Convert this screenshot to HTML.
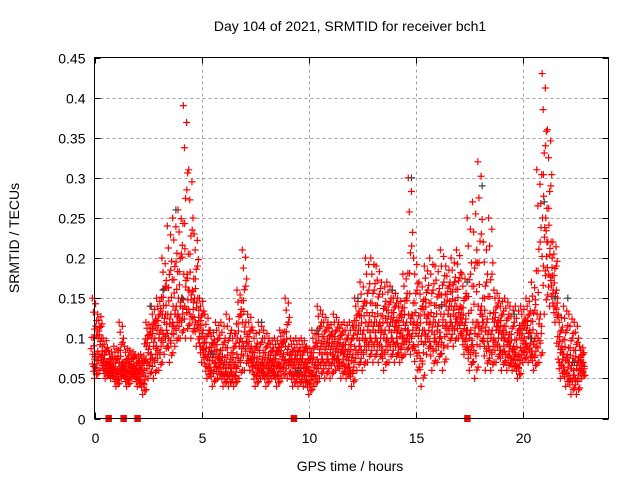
<!DOCTYPE html>
<html><head><meta charset="utf-8"><style>
body{margin:0;background:#fff}
svg{display:block;font-family:"Liberation Sans",sans-serif}
</style></head><body>
<svg id="chart" width="640" height="480">
<text x="350" y="31" text-anchor="middle" font-size="14">Day 104 of 2021, SRMTID for receiver bch1</text>
<text x="350" y="471" text-anchor="middle" font-size="14">GPS time / hours</text>
<text transform="translate(19,238) rotate(-90)" text-anchor="middle" font-size="14">SRMTID / TECUs</text>
<g id="grid"></g><g id="ticks"></g><g id="marks"></g>
<rect x="94.5" y="57.5" width="514" height="361" fill="none" stroke="#000"/>
</svg>
<script>
const times=[0,0.25,0.5,0.75,1,1.25,1.5,1.75,2,2.25,2.5,2.75,3,3.25,3.5,3.75,4,4.25,4.5,4.75,5,5.25,5.5,5.75,6,6.25,6.5,6.75,7,7.25,7.5,7.75,8,8.25,8.5,8.75,9,9.25,9.5,9.75,10,10.25,10.5,10.75,11,11.25,11.5,11.75,12,12.25,12.5,12.75,13,13.25,13.5,13.75,14,14.25,14.5,14.75,15,15.25,15.5,15.75,16,16.25,16.5,16.75,17,17.25,17.5,17.75,18,18.25,18.5,18.75,19,19.25,19.5,19.75,20,20.25,20.5,20.75,21,21.25,21.5,21.75,22,22.25,22.5,22.75];
const lowVals=[0.05,0.06,0.05,0.05,0.04,0.05,0.04,0.05,0.04,0.03,0.05,0.05,0.06,0.08,0.07,0.09,0.10,0.10,0.10,0.09,0.07,0.05,0.04,0.05,0.04,0.04,0.04,0.05,0.06,0.06,0.04,0.05,0.04,0.05,0.04,0.05,0.05,0.04,0.04,0.04,0.03,0.04,0.05,0.05,0.05,0.06,0.05,0.05,0.04,0.06,0.06,0.07,0.07,0.07,0.06,0.07,0.07,0.07,0.08,0.08,0.05,0.04,0.08,0.06,0.07,0.06,0.09,0.09,0.10,0.08,0.06,0.05,0.09,0.06,0.06,0.07,0.06,0.06,0.06,0.05,0.07,0.07,0.06,0.07,0.13,0.14,0.12,0.05,0.04,0.03,0.03,0.05];
const midVals=[0.08,0.10,0.07,0.065,0.06,0.07,0.06,0.065,0.06,0.06,0.09,0.10,0.11,0.13,0.13,0.14,0.15,0.18,0.16,0.15,0.11,0.08,0.08,0.08,0.07,0.07,0.07,0.10,0.12,0.09,0.07,0.07,0.07,0.07,0.07,0.08,0.09,0.07,0.07,0.07,0.06,0.07,0.09,0.09,0.09,0.09,0.09,0.08,0.08,0.11,0.11,0.12,0.12,0.12,0.11,0.12,0.12,0.11,0.12,0.13,0.12,0.11,0.13,0.12,0.12,0.13,0.14,0.14,0.14,0.12,0.11,0.12,0.14,0.12,0.11,0.12,0.11,0.10,0.09,0.08,0.10,0.11,0.10,0.13,0.25,0.22,0.16,0.09,0.08,0.07,0.07,0.07];
const highVals=[0.15,0.13,0.10,0.085,0.09,0.12,0.09,0.085,0.08,0.08,0.12,0.14,0.15,0.20,0.24,0.25,0.26,0.39,0.31,0.23,0.15,0.13,0.11,0.12,0.12,0.13,0.11,0.16,0.21,0.13,0.11,0.12,0.11,0.10,0.10,0.11,0.15,0.10,0.10,0.10,0.09,0.11,0.14,0.13,0.12,0.13,0.12,0.12,0.12,0.15,0.17,0.20,0.20,0.19,0.17,0.17,0.16,0.15,0.18,0.30,0.20,0.17,0.19,0.20,0.19,0.21,0.19,0.20,0.21,0.18,0.25,0.27,0.32,0.22,0.25,0.16,0.15,0.15,0.14,0.14,0.14,0.15,0.17,0.31,0.43,0.36,0.22,0.13,0.14,0.13,0.12,0.09];
const grayTimes=[2.6,3.2,3.8,4.1,5.5,7.8,9.5,10.4,12.3,13.9,14.8,16.2,17.4,18.1,19.6,20.4,21.0,21.5,22.1,22.4];
const grayVals=[0.14,0.16,0.26,0.15,0.08,0.12,0.06,0.11,0.15,0.16,0.30,0.14,0.17,0.29,0.13,0.10,0.27,0.15,0.15,0.07];
const zeroTimes=[0.65,1.35,2.0,9.3,17.4];
const xTicks=[0,5,10,15,20];
const yTicks=[0,0.05,0.1,0.15,0.2,0.25,0.3,0.35,0.4,0.45];
const yTickLabels=["0","0.05","0.1","0.15","0.2","0.25","0.3","0.35","0.4","0.45"];

const X0=94.5,X1=608.5,Y0=418.5,Y1=57.5;
const xs=t=>X0+t/24*(X1-X0);
const ys=v=>Y0-v/0.45*(Y0-Y1);
const NS="http://www.w3.org/2000/svg";
function mk(tag,parent,attrs){const e=document.createElementNS(NS,tag);for(const k in attrs)e.setAttribute(k,attrs[k]);parent.appendChild(e);return e;}
const grid=document.getElementById('grid'),ticks=document.getElementById('ticks'),marks=document.getElementById('marks');
yTicks.forEach((v,i)=>{
  const y=Math.round(ys(v))+0.5;
  if(v>0&&v<0.45){const g=mk('line',grid,{x1:X0,x2:X1,y1:y,y2:y,stroke:'#a0a0a0','stroke-dasharray':'3,3'});
  
  }
  mk('line',ticks,{x1:X0,x2:X0+6,y1:y,y2:y,stroke:'#000'});
  mk('line',ticks,{x1:X1-6,x2:X1,y1:y,y2:y,stroke:'#000'});
  const t=mk('text',ticks,{x:X0-9,y:y+5,'text-anchor':'end','font-size':14});
  t.textContent=yTickLabels[i];
  
  
});
xTicks.forEach(v=>{
  const x=Math.round(xs(v))+0.5;
  if(v>0){const g=mk('line',grid,{x1:x,x2:x,y1:Y1,y2:Y0,stroke:'#a0a0a0','stroke-dasharray':'3,3'});
  
  }
  mk('line',ticks,{x1:x,x2:x,y1:Y0,y2:Y0-6,stroke:'#000'});
  mk('line',ticks,{x1:x,x2:x,y1:Y1,y2:Y1+6,stroke:'#000'});
  const t=mk('text',ticks,{x:x,y:443,'text-anchor':'middle','font-size':14});
  t.textContent=String(v);
  
  
});
function plus(t,v,color){
  const x=xs(t),y=ys(v);
  const p=mk('path',marks,{d:`M${x-3.5},${y}H${x+3.5}M${x},${y-3.5}V${y+3.5}`,stroke:color,'stroke-width':1.2,fill:'none'});
  
  
}
const fr=[0,0.15,0.3,0.45,0.6,0.75,0.9,1];
const off=[0.0,0.1,-0.05,0.05,-0.1,0.12,0.02,-0.08,0.07,-0.03,-0.12];
times.forEach((t,i)=>{
  const lo=lowVals[i],mi=midVals[i],hi=highVals[i];
  let k=0;
  fr.forEach(f=>{plus(t+off[k++%11],lo+(mi-lo)*f,'#ff0000');});
  fr.forEach(f=>{plus(t+off[k++%11],mi+(hi-mi)*f,'#ff0000');});
  [0.2,0.4,0.5,0.6,0.8].forEach(f=>{plus(t+off[k++%11]+0.04,lo+(mi-lo)*f,'#ff0000');});
  [0.1,0.3,0.5].forEach(f=>{plus(t+off[k++%11]-0.04,mi+(hi-mi)*f,'#ff0000');});
});
grayTimes.forEach((t,i)=>plus(t,grayVals[i],'#404040'));
zeroTimes.forEach(t=>{
  const r=mk('rect',marks,{x:xs(t)-3,y:Y0-3.5,width:6.5,height:7,fill:'#ff0000'});
  
  
});
</script>
</body></html>
